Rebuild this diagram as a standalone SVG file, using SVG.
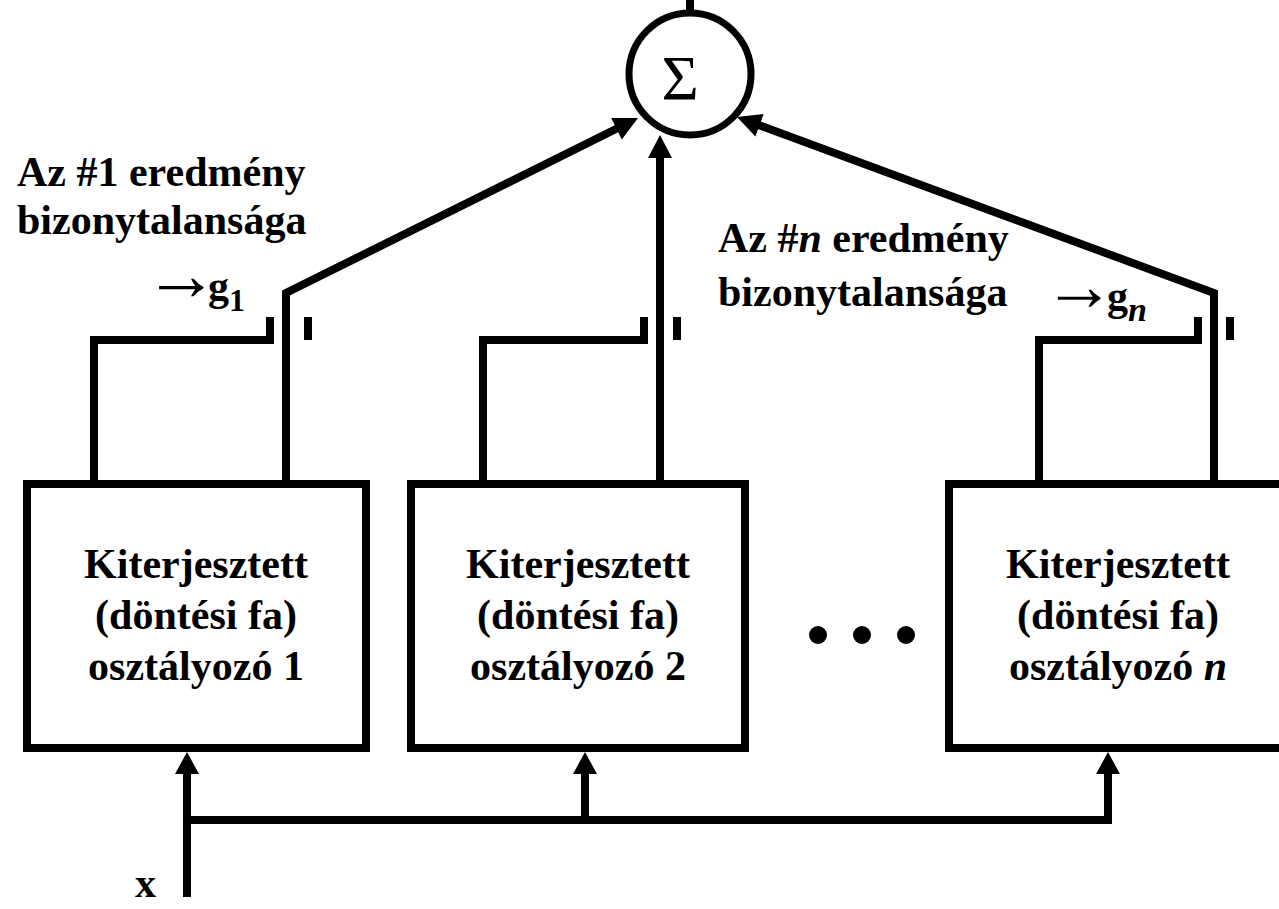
<svg xmlns="http://www.w3.org/2000/svg" width="1279" height="909" viewBox="0 0 1279 909">
  <style>
    .ln { fill: none; stroke: #000; stroke-width: 8; stroke-linejoin: miter; }
    .box { fill: #fff; stroke: #000; stroke-width: 8; }
    .head { fill: #000; stroke: none; }
    .t { font-family: "Liberation Serif", "Times New Roman", serif; font-weight: bold; font-size: 42px; fill: #000; }
    .mid { text-anchor: middle; }
    .arr { font-weight: normal; }
    .sym { font-family: "Liberation Serif", "Times New Roman", serif; font-weight: normal; font-size: 64px; fill: #000; text-anchor: middle; }
  </style>

  <rect width="1279" height="909" fill="#fff"/>

  <!-- summing junction -->
  <g id="sum">
    <line class="ln" x1="690" y1="0" x2="690" y2="14" stroke-width="7"/>
    <circle cx="690" cy="74" r="61" fill="#fff" stroke="#000" stroke-width="7"/>
    <text class="sym" x="680" y="100">Σ</text>
  </g>

  <!-- classifier blocks -->
  <g id="classifier-1">
    <rect class="box" x="27" y="484" width="339" height="264"/>
    <text class="t mid" x="196" y="578">Kiterjesztett</text>
    <text class="t mid" x="196" y="629">(döntési fa)</text>
    <text class="t mid" x="196" y="680">osztályozó 1</text>
  </g>
  <g id="classifier-2">
    <rect class="box" x="411" y="484" width="334" height="264"/>
    <text class="t mid" x="578" y="578">Kiterjesztett</text>
    <text class="t mid" x="578" y="629">(döntési fa)</text>
    <text class="t mid" x="578" y="680">osztályozó 2</text>
  </g>
  <g id="classifier-n">
    <rect class="box" x="949" y="484" width="340" height="264"/>
    <text class="t mid" x="1118" y="578">Kiterjesztett</text>
    <text class="t mid" x="1118" y="629">(döntési fa)</text>
    <text class="t mid" x="1118" y="680">osztályozó <tspan font-style="italic">n</tspan></text>
  </g>

  <!-- ellipsis between blocks -->
  <g id="ellipsis">
    <circle cx="818" cy="635" r="9"/>
    <circle cx="862" cy="635" r="9"/>
    <circle cx="906" cy="635" r="9"/>
  </g>

  <!-- labels -->
  <g id="labels">
    <text class="t" x="17" y="186" font-size="43">Az #1 eredmény</text>
    <text class="t" x="17" y="234" font-size="43">bizonytalansága</text>
    <text class="t" x="718" y="252" font-size="43">Az #<tspan font-style="italic">n</tspan> eredmény</text>
    <text class="t" x="718" y="306" font-size="43">bizonytalansága</text>

    <text class="t" x="144" y="300" font-size="52"><tspan class="arr" font-size="75">→</tspan><tspan dx="-11">g</tspan><tspan font-size="32" dy="11">1</tspan></text>
    <text class="t" x="1043" y="310" font-size="52"><tspan class="arr" font-size="72">→</tspan><tspan dx="-8">g</tspan><tspan font-size="34" dy="11" font-style="italic">n</tspan></text>

    <text class="t" x="135" y="897" font-size="46">x</text>
  </g>

  <!-- connectors -->
  <g id="connectors">
    <!-- classifier 1: uncertainty tap and output to the sum -->
    <polyline class="ln" points="94,484 94,340 270,340 270,317"/>
    <line class="ln" x1="308" y1="317" x2="308" y2="340"/>
    <polyline class="ln" points="286,484 286,293 620,127"/>
    <polygon class="head" points="638,118 621.8,139.4 611.2,118.0"/>

    <!-- classifier 2 -->
    <polyline class="ln" points="483,484 483,340 644,340 644,317"/>
    <line class="ln" x1="677" y1="317" x2="677" y2="340"/>
    <line class="ln" x1="660" y1="484" x2="660" y2="155"/>
    <polygon class="head" points="660,135 648,158 672,158"/>

    <!-- classifier n -->
    <polyline class="ln" points="1039,484 1039,340 1198,340 1198,317"/>
    <line class="ln" x1="1230" y1="317" x2="1230" y2="340"/>
    <polyline class="ln" points="1214,484 1214,293 757,124.4"/>
    <polygon class="head" points="737,117 763.6,114.0 755.4,136.6"/>

    <!-- input x distribution bus -->
    <line class="ln" x1="187" y1="897" x2="187" y2="772"/>
    <polygon class="head" points="187,752 175,774 199,774"/>
    <polyline class="ln" points="183,820 1112,820"/>
    <line class="ln" x1="585" y1="824" x2="585" y2="772"/>
    <polygon class="head" points="585,752 573,774 597,774"/>
    <line class="ln" x1="1108" y1="824" x2="1108" y2="772"/>
    <polygon class="head" points="1108,752 1096,774 1120,774"/>
  </g>
</svg>
